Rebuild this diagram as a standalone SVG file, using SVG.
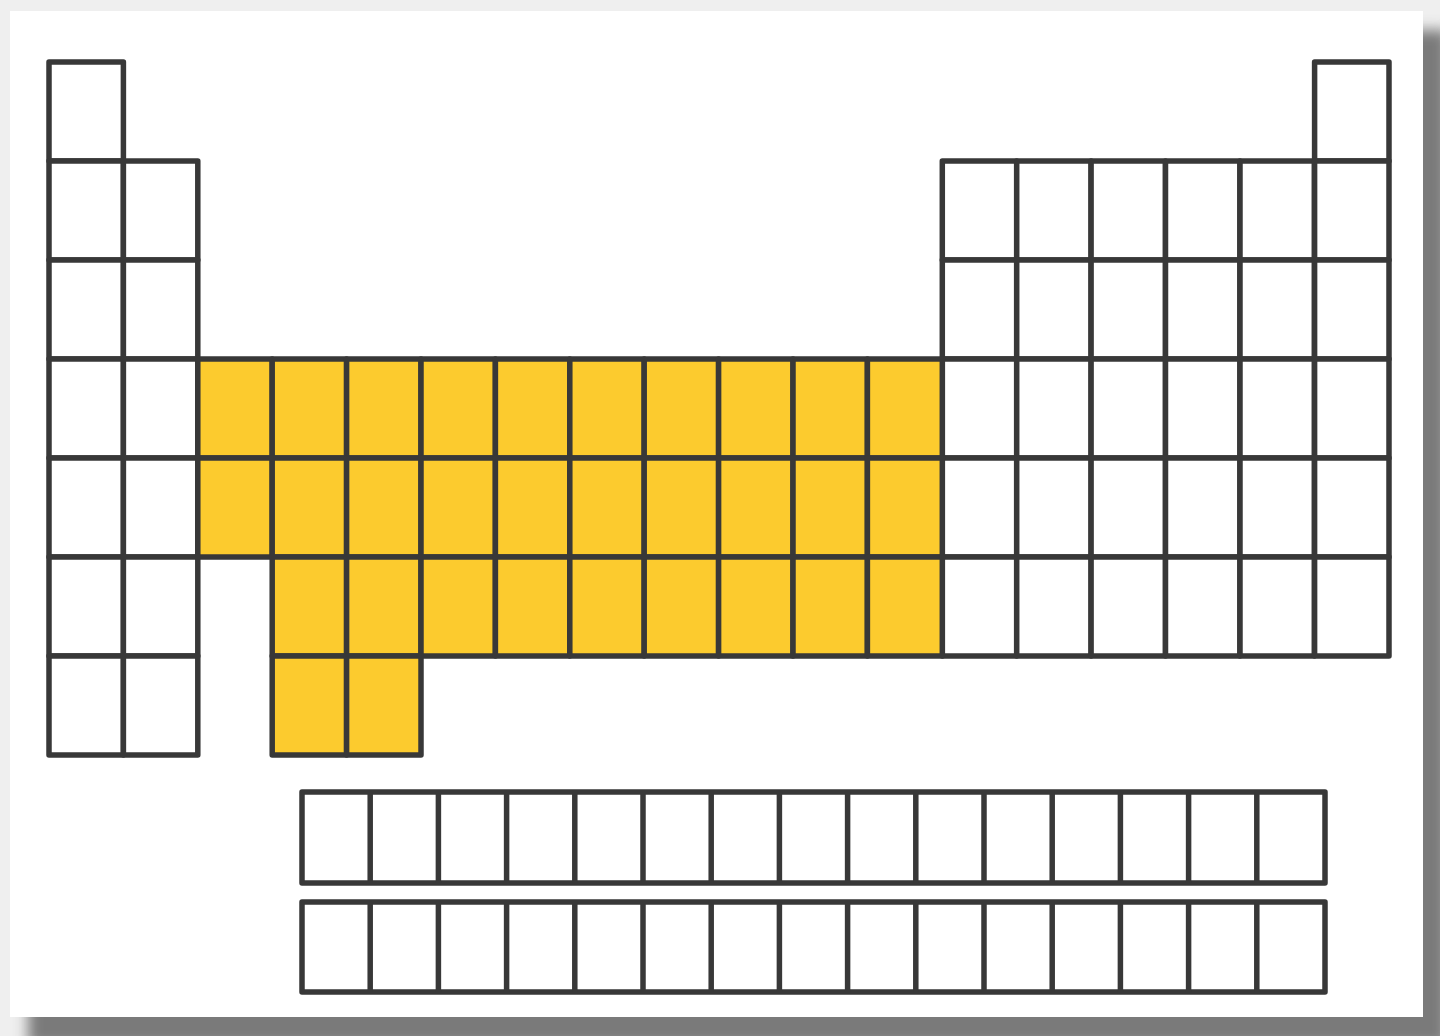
<svg xmlns="http://www.w3.org/2000/svg" width="1440" height="1036" viewBox="0 0 1440 1036">
<defs>
<filter id="sh" x="-5%" y="-5%" width="110%" height="110%"><feGaussianBlur stdDeviation="7"/></filter>
<style>
.c{stroke:#383838;stroke-width:5.5;stroke-linejoin:round}
.w{fill:#ffffff}
.y{fill:#fccb2e}
</style>
</defs>
<rect x="0" y="0" width="1440" height="1036" fill="#efefef"/>
<rect x="28" y="30" width="1420" height="1016" fill="#7a7a7a" filter="url(#sh)"/>
<rect x="10" y="11" width="1413" height="1006" fill="#ffffff"/>
<g id="main-white" class="c w">
<rect x="49" y="62" width="74.4" height="99"/>
<rect x="49" y="161" width="74.4" height="99"/>
<rect x="49" y="260" width="74.4" height="99"/>
<rect x="49" y="359" width="74.4" height="99"/>
<rect x="49" y="458" width="74.4" height="99"/>
<rect x="49" y="557" width="74.4" height="99"/>
<rect x="49" y="656" width="74.4" height="99"/>
<rect x="123.4" y="161" width="74.4" height="99"/>
<rect x="123.4" y="260" width="74.4" height="99"/>
<rect x="123.4" y="359" width="74.4" height="99"/>
<rect x="123.4" y="458" width="74.4" height="99"/>
<rect x="123.4" y="557" width="74.4" height="99"/>
<rect x="123.4" y="656" width="74.4" height="99"/>
</g>
<g id="right-white" class="c w">
<rect x="1314.6" y="62" width="74.4" height="99"/>
<rect x="942.3" y="161" width="74.4" height="99"/><rect x="1016.7" y="161" width="74.4" height="99"/><rect x="1091.1" y="161" width="74.4" height="99"/><rect x="1165.5" y="161" width="74.4" height="99"/><rect x="1240.0" y="161" width="74.4" height="99"/><rect x="1314.6" y="161" width="74.4" height="99"/>
<rect x="942.3" y="260" width="74.4" height="99"/><rect x="1016.7" y="260" width="74.4" height="99"/><rect x="1091.1" y="260" width="74.4" height="99"/><rect x="1165.5" y="260" width="74.4" height="99"/><rect x="1240.0" y="260" width="74.4" height="99"/><rect x="1314.6" y="260" width="74.4" height="99"/>
<rect x="942.3" y="359" width="74.4" height="99"/><rect x="1016.7" y="359" width="74.4" height="99"/><rect x="1091.1" y="359" width="74.4" height="99"/><rect x="1165.5" y="359" width="74.4" height="99"/><rect x="1240.0" y="359" width="74.4" height="99"/><rect x="1314.6" y="359" width="74.4" height="99"/>
<rect x="942.3" y="458" width="74.4" height="99"/><rect x="1016.7" y="458" width="74.4" height="99"/><rect x="1091.1" y="458" width="74.4" height="99"/><rect x="1165.5" y="458" width="74.4" height="99"/><rect x="1240.0" y="458" width="74.4" height="99"/><rect x="1314.6" y="458" width="74.4" height="99"/>
<rect x="942.3" y="557" width="74.4" height="99"/><rect x="1016.7" y="557" width="74.4" height="99"/><rect x="1091.1" y="557" width="74.4" height="99"/><rect x="1165.5" y="557" width="74.4" height="99"/><rect x="1240.0" y="557" width="74.4" height="99"/><rect x="1314.6" y="557" width="74.4" height="99"/>
</g>
<g id="transition-metals" class="c y">
<rect x="197.8" y="359" width="74.4" height="99"/><rect x="272.2" y="359" width="74.4" height="99"/><rect x="346.6" y="359" width="74.4" height="99"/><rect x="421.0" y="359" width="74.4" height="99"/><rect x="495.4" y="359" width="74.4" height="99"/><rect x="569.8" y="359" width="74.4" height="99"/><rect x="644.2" y="359" width="74.4" height="99"/><rect x="718.6" y="359" width="74.4" height="99"/><rect x="793.0" y="359" width="74.4" height="99"/><rect x="867.4" y="359" width="74.9" height="99"/>
<rect x="197.8" y="458" width="74.4" height="99"/><rect x="272.2" y="458" width="74.4" height="99"/><rect x="346.6" y="458" width="74.4" height="99"/><rect x="421.0" y="458" width="74.4" height="99"/><rect x="495.4" y="458" width="74.4" height="99"/><rect x="569.8" y="458" width="74.4" height="99"/><rect x="644.2" y="458" width="74.4" height="99"/><rect x="718.6" y="458" width="74.4" height="99"/><rect x="793.0" y="458" width="74.4" height="99"/><rect x="867.4" y="458" width="74.9" height="99"/>
<rect x="272.2" y="557" width="74.4" height="99"/><rect x="346.6" y="557" width="74.4" height="99"/><rect x="421.0" y="557" width="74.4" height="99"/><rect x="495.4" y="557" width="74.4" height="99"/><rect x="569.8" y="557" width="74.4" height="99"/><rect x="644.2" y="557" width="74.4" height="99"/><rect x="718.6" y="557" width="74.4" height="99"/><rect x="793.0" y="557" width="74.4" height="99"/><rect x="867.4" y="557" width="74.9" height="99"/>
<rect x="272.2" y="656" width="74.4" height="99"/><rect x="346.6" y="656" width="74.4" height="99"/>
</g>
<g id="lanthanides" class="c w">
<rect x="302" y="792" width="1023" height="91"/>
<path d="M370.2 792V883M438.4 792V883M506.6 792V883M574.8 792V883M643 792V883M711.2 792V883M779.4 792V883M847.6 792V883M915.8 792V883M984 792V883M1052.2 792V883M1120.4 792V883M1188.6 792V883M1256.8 792V883" fill="none"/>
</g>
<g id="actinides" class="c w">
<rect x="302" y="902" width="1023" height="90"/>
<path d="M370.2 902V992M438.4 902V992M506.6 902V992M574.8 902V992M643 902V992M711.2 902V992M779.4 902V992M847.6 902V992M915.8 902V992M984 902V992M1052.2 902V992M1120.4 902V992M1188.6 902V992M1256.8 902V992" fill="none"/>
</g>
</svg>
